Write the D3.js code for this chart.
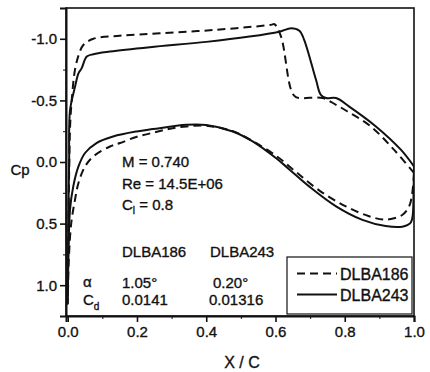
<!DOCTYPE html>
<html lang="en">
<head>
  <meta charset="UTF-8">
  <title>Cp distribution DLBA186 / DLBA243</title>
  <script src="https://d3js.org/d3.v7.min.js"></script>
  <style>
    body {
      background: #fff;
      margin: 0;
    }
    text {
      font-family: 'Liberation Sans', Arial, Helvetica, sans-serif;
      fill: #111;
      stroke: #111;
      stroke-width: 0.35px;
    }
    .axis path, .axis line {
      stroke: #111;
    }
    .axis text {
      font-size: 15px;
    }
  </style>
</head>
<body>
  <script>
    // X/C ticks and Cp ticks (Cp axis is inverted: suction up)
    var xTicks = [0, 0.2, 0.4, 0.6, 0.8, 1.0];
    var xTickLabels = ["0.0", "0.2", "0.4", "0.6", "0.8", "1.0"];
    var xMinor = [0.1, 0.3, 0.5, 0.7, 0.9];
    var yTicks = [-1.0, -0.5, 0.0, 0.5, 1.0];
    var yTickLabels = ["-1.0", "-0.5", "0.0", "0.5", "1.0"];
    var yMinor = [-0.75, -0.25, 0.25, 0.75];

    var seriesNames = ["DLBA186", "DLBA243"];

    // DLBA186 (dashed), [x/c, Cp]
    var dlba186Upper = [
      [0, 1.15], [0.002, 0.6], [0.004, 0.1], [0.007, -0.3], [0.0115, -0.5],
      [0.021, -0.75], [0.033, -0.88], [0.045, -0.95], [0.074, -1.0], [0.15, -1.025],
      [0.266, -1.045], [0.425, -1.072], [0.587, -1.113], [0.597, -1.118], [0.616, -1.018],
      [0.645, -0.586], [0.659, -0.527], [0.736, -0.519], [0.775, -0.464], [0.808, -0.41],
      [0.875, -0.289], [0.942, -0.10], [1.0, 0.089]
    ];
    var dlba186Lower = [
      [0, 1.15], [0.003, 0.8], [0.01, 0.5], [0.021, 0.306], [0.031, 0.17],
      [0.05, 0.036], [0.074, -0.045], [0.122, -0.126], [0.151, -0.154], [0.2, -0.205],
      [0.25, -0.24], [0.295, -0.27], [0.343, -0.289], [0.40, -0.295], [0.477, -0.25],
      [0.534, -0.17], [0.602, -0.05], [0.659, 0.08], [0.726, 0.23], [0.803, 0.36],
      [0.870, 0.44], [0.918, 0.468], [0.966, 0.43], [0.986, 0.36], [0.995, 0.25],
      [1.0, 0.089]
    ];

    // DLBA243 (solid)
    var dlba243Upper = [
      [0, 1.15], [0.002, 0.4], [0.004, 0.0], [0.0066, -0.42], [0.021, -0.61],
      [0.031, -0.72], [0.040, -0.76], [0.055, -0.856], [0.074, -0.875], [0.122, -0.896],
      [0.237, -0.932], [0.40, -0.975], [0.525, -1.018], [0.611, -1.058], [0.645, -1.086],
      [0.669, -1.066], [0.683, -0.99], [0.717, -0.667], [0.731, -0.545], [0.746, -0.519],
      [0.775, -0.519], [0.813, -0.45], [0.890, -0.289], [0.962, -0.10], [1.0, 0.036]
    ];
    var dlba243Lower = [
      [0, 1.15], [0.002, 0.75], [0.0066, 0.387], [0.016, 0.198], [0.031, 0.036],
      [0.050, -0.073], [0.083, -0.154], [0.131, -0.207], [0.199, -0.248], [0.246, -0.267],
      [0.343, -0.302], [0.40, -0.30], [0.477, -0.248], [0.534, -0.167], [0.602, -0.03],
      [0.64, 0.06], [0.698, 0.2], [0.775, 0.36], [0.851, 0.47], [0.918, 0.52],
      [0.966, 0.525], [0.99, 0.494], [0.996, 0.44], [0.999, 0.2], [1.0, 0.036]
    ];

    var annotation = ["M = 0.740", "Re = 14.5E+06"];
    var alphaValues = ["1.05\u00b0", "0.20\u00b0"];
    var cdValues = ["0.0141", "0.01316"];

    var width = 430, height = 372;
    var margin = { top: 8, right: 16, bottom: 56, left: 66 };

    var svg = d3.select("body").append("svg")
      .attr("width", width)
      .attr("height", height);

    var x = d3.scaleLinear()
      .domain([-0.005, 1.0])
      .range([margin.left, width - margin.right]);

    var y = d3.scaleLinear()
      .domain([-1.25, 1.25])
      .range([margin.top, height - margin.bottom]);

    svg.append("clipPath")
      .attr("id", "plot-clip")
      .append("rect")
      .attr("x", x.range()[0])
      .attr("y", y.range()[0])
      .attr("width", x.range()[1] - x.range()[0])
      .attr("height", y.range()[1] - y.range()[0]);

    // frame
    svg.append("rect")
      .attr("x", x.range()[0])
      .attr("y", y.range()[0])
      .attr("width", x.range()[1] - x.range()[0])
      .attr("height", y.range()[1] - y.range()[0])
      .attr("fill", "none")
      .attr("stroke", "#111")
      .attr("stroke-width", 1.6);

    var xAxis = svg.append("g")
      .attr("class", "axis")
      .attr("transform", "translate(0," + y.range()[1] + ")")
      .call(d3.axisBottom(x)
        .tickValues(xTicks)
        .tickFormat(function(d, i) { return xTickLabels[i]; })
        .tickSizeOuter(0)
        .tickSize(6)
        .tickPadding(4));
    xAxis.select(".domain").attr("stroke-width", 2);
    xAxis.selectAll(".tick line").attr("stroke-width", 1.6);

    svg.append("g")
      .attr("class", "axis")
      .attr("transform", "translate(0," + y.range()[1] + ")")
      .call(d3.axisBottom(x).tickValues(xMinor).tickFormat("").tickSize(3).tickSizeOuter(0))
      .select(".domain").remove();

    var yAxis = svg.append("g")
      .attr("class", "axis")
      .attr("transform", "translate(" + x.range()[0] + ",0)")
      .call(d3.axisLeft(y)
        .tickValues(yTicks)
        .tickFormat(function(d, i) { return yTickLabels[i]; })
        .tickSizeOuter(0)
        .tickSize(6)
        .tickPadding(3));
    yAxis.select(".domain").attr("stroke-width", 2);
    yAxis.selectAll(".tick line").attr("stroke-width", 1.6);

    svg.append("g")
      .attr("class", "axis")
      .attr("transform", "translate(" + x.range()[0] + ",0)")
      .call(d3.axisLeft(y).tickValues(yMinor).tickFormat("").tickSize(3).tickSizeOuter(0))
      .select(".domain").remove();

    // axis titles
    svg.append("text")
      .attr("x", 242)
      .attr("y", 368)
      .attr("text-anchor", "middle")
      .style("font-size", "16px")
      .text("X / C");

    svg.append("text")
      .attr("x", 20)
      .attr("y", 175)
      .attr("text-anchor", "middle")
      .style("font-size", "15px")
      .text("Cp");

    // curves
    var line = d3.line()
      .x(function(d) { return x(d[0]); })
      .y(function(d) { return y(d[1]); })
      .curve(d3.curveCatmullRom.alpha(0.5));

    var curves = [
      { name: seriesNames[0], pts: dlba186Upper.slice().reverse().concat(dlba186Lower.slice(1)), dash: "8,5" },
      { name: seriesNames[1], pts: dlba243Upper.slice().reverse().concat(dlba243Lower.slice(1)), dash: null }
    ];

    svg.append("g")
      .attr("clip-path", "url(#plot-clip)")
      .selectAll("path")
      .data(curves)
      .enter()
      .append("path")
      .attr("d", function(d) { return line(d.pts); })
      .attr("fill", "none")
      .attr("stroke", "#111")
      .attr("stroke-width", 2)
      .attr("stroke-dasharray", function(d) { return d.dash; });

    // annotations
    var note = svg.append("g").style("font-size", "15px");

    note.selectAll(".ann")
      .data(annotation)
      .enter()
      .append("text")
      .attr("x", 122)
      .attr("y", function(d, i) { return 167 + i * 21.5; })
      .text(function(d) { return d; });

    var cl = note.append("text").attr("x", 122).attr("y", 210);
    cl.append("tspan").text("C");
    cl.append("tspan").attr("dy", 4).style("font-size", "10px").text("l");
    cl.append("tspan").attr("dy", -4).text(" = 0.8");

    note.selectAll(".hdr")
      .data(seriesNames)
      .enter()
      .append("text")
      .attr("x", function(d, i) { return i === 0 ? 122 : 210; })
      .attr("y", 257)
      .text(function(d) { return d; });

    note.append("text")
      .attr("x", 83)
      .attr("y", 287)
      .text("\u03b1");

    note.selectAll(".alpha")
      .data(alphaValues)
      .enter()
      .append("text")
      .attr("x", function(d, i) { return i === 0 ? 122 : 213; })
      .attr("y", 288)
      .text(function(d) { return d; });

    var cd = note.append("text").attr("x", 83).attr("y", 305);
    cd.append("tspan").text("C");
    cd.append("tspan").attr("dy", 5).style("font-size", "10px").text("d");

    note.selectAll(".cd")
      .data(cdValues)
      .enter()
      .append("text")
      .attr("x", function(d, i) { return i === 0 ? 122 : 209; })
      .attr("y", 305)
      .text(function(d) { return d; });

    // legend
    var legend = svg.append("g");

    legend.append("rect")
      .attr("x", 287)
      .attr("y", 257)
      .attr("width", 125)
      .attr("height", 57)
      .attr("fill", "#fff")
      .attr("stroke", "#111")
      .attr("stroke-width", 1.2);

    var items = legend.selectAll(".item")
      .data(curves)
      .enter()
      .append("g")
      .attr("transform", function(d, i) { return "translate(0," + (273.5 + i * 21) + ")"; });

    items.append("line")
      .attr("x1", 297)
      .attr("x2", 337)
      .attr("stroke", "#111")
      .attr("stroke-width", 2)
      .attr("stroke-dasharray", function(d) { return d.dash; });

    items.append("text")
      .attr("x", 340)
      .attr("y", 6)
      .style("font-size", "16px")
      .text(function(d) { return d.name; });
  </script>
</body>
</html>
